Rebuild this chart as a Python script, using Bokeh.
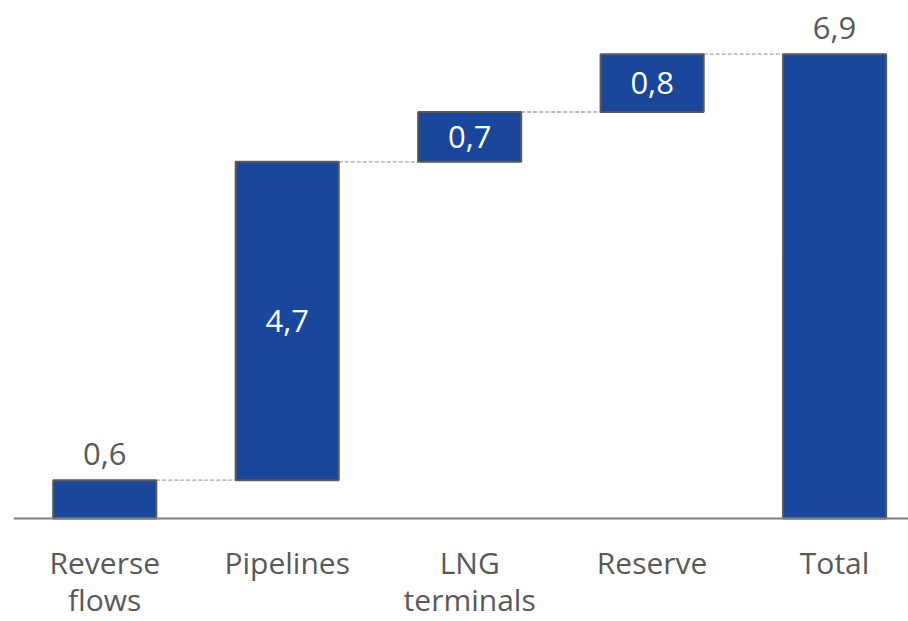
from bokeh.plotting import figure
from bokeh.models import ColumnDataSource, Range1d, Span
from bokeh.core.properties import value
from bokeh.embed import file_html
from bokeh.resources import INLINE

# ---- data ----
categories = ["Reverse\nflows", "Pipelines", "LNG\nterminals", "Reserve", "Total"]
step_values = [0.57, 4.73, 0.74, 0.86]   # bar heights
total_value = 6.9
value_labels = ["0,6", "4,7", "0,7", "0,8", "6,9"]

BAR_FILL = "#18479B"
EDGE = "#595959"
TEXT_GREY = "#595959"
FONT = "Open Sans"

# ---- waterfall geometry from data ----
xs = list(range(len(categories)))
bottoms, tops = [], []
run = 0.0
for v in step_values:
    bottoms.append(run)
    run += v
    tops.append(run)
bottoms.append(0.0)
tops.append(total_value)

bar_w = 0.565
src = ColumnDataSource(dict(x=xs, bottom=bottoms, top=tops))

p = figure(width=908, height=621, output_backend="svg", toolbar_location=None,
           x_range=Range1d(-0.5, 4.405), y_range=Range1d(-1.530, 7.697),
           min_border_left=13, min_border_right=0, min_border_top=0, min_border_bottom=0,
           x_axis_location=None, y_axis_location=None)
p.outline_line_color = None
p.xgrid.grid_line_color = None
p.ygrid.grid_line_color = None
p.background_fill_color = "white"
p.border_fill_color = "white"

# baseline (category axis line)
p.add_layout(Span(location=0, dimension="width", line_color="#7F7F7F", line_width=2))

# connectors
for i in range(len(categories) - 1):
    p.line([xs[i] + bar_w / 2, xs[i + 1] - bar_w / 2], [tops[i], tops[i]],
           line_color="#A6A6A6", line_width=1.3, line_dash="4 2")

p.vbar(x="x", bottom="bottom", top="top", width=bar_w, source=src,
       fill_color=BAR_FILL, line_color=EDGE, line_width=2)

# value labels: inside for tall step bars, above for short bars and the total
inside_x, inside_y, inside_t = [], [], []
outside_x, outside_y, outside_t = [], [], []
for i, lab in enumerate(value_labels):
    h = tops[i] - bottoms[i]
    if i < len(value_labels) - 1 and h > 0.65:
        inside_x.append(xs[i]); inside_y.append((tops[i] + bottoms[i]) / 2); inside_t.append(lab)
    else:
        outside_x.append(xs[i]); outside_y.append(tops[i]); outside_t.append(lab)

p.text(x=inside_x, y=inside_y, text=inside_t, text_align="center", text_baseline="middle",
       text_color="white", text_font=value(FONT), text_font_size="31px")
p.text(x=outside_x, y=outside_y, text=outside_t, text_align="center", text_baseline="middle",
       y_offset=-26, text_color=TEXT_GREY, text_font=value(FONT), text_font_size="31px")

# category labels (one glyph per line so the line spacing can match)
for k in range(2):
    lx, lt = [], []
    for i, c in enumerate(categories):
        parts = c.split("\n")
        if k < len(parts):
            lx.append(xs[i]); lt.append(parts[k])
    p.text(x=lx, y=[0] * len(lx), text=lt, text_align="center", text_baseline="middle",
           y_offset=44 + 37 * k, text_color=TEXT_GREY, text_font=value(FONT),
           text_font_size="30px")

open("out.html", "w").write(file_html(p, INLINE))
